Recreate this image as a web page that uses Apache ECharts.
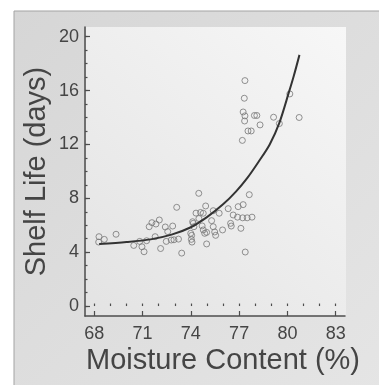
<!DOCTYPE html>
<html>
<head>
<meta charset="utf-8">
<script src="https://cdn.jsdelivr.net/npm/echarts@6/dist/echarts.min.js"></script>
<style>
  html, body { margin: 0; padding: 0; background: #fff; }
  #chart { width: 379px; height: 385px; }
</style>
</head>
<body>
<div id="chart"></div>
<script>
// observed samples: [moisture %, shelf life days]
const samples = [
  [68.29, 5.15], [68.27, 4.75], [68.62, 4.95], [69.35, 5.33],
  [70.45, 4.5], [70.82, 4.8], [70.96, 4.4], [71.09, 4.03], [71.25, 4.85],
  [71.41, 5.89], [71.58, 6.19], [71.83, 6.09], [72.04, 6.39], [71.78, 5.15],
  [72.12, 4.27], [72.41, 5.87], [72.87, 5.94], [72.56, 5.53], [72.47, 4.8],
  [72.78, 4.9], [72.95, 4.92], [73.12, 7.33], [73.23, 4.97], [73.43, 3.93],
  [74.05, 5.25], [74.03, 4.95], [74.07, 4.75], [74.15, 6.14], [74.32, 6.9],
  [74.49, 8.37], [74.11, 6.26], [74.19, 5.89], [73.99, 5.4],
  [74.92, 7.43], [74.77, 6.89], [74.6, 6.95], [75.39, 7.08], [75.76, 6.89],
  [76.32, 7.23], [76.94, 7.38], [77.25, 7.53], [77.63, 8.27], [76.63, 6.76],
  [76.9, 6.6], [77.22, 6.55], [77.5, 6.55], [77.8, 6.6],
  [74.77, 5.65], [74.86, 5.4], [74.98, 5.47], [75.39, 5.89], [75.48, 5.5],
  [75.29, 6.34], [75.97, 5.65], [76.47, 6.14], [76.51, 5.94], [77.11, 5.77],
  [74.98, 4.61], [77.38, 4.01], [75.54, 5.25], [74.5, 6.5], [74.7, 5.95],
  [77.36, 16.74], [77.32, 15.43], [77.25, 14.41], [77.36, 14.12], [77.34, 13.74],
  [77.95, 14.15], [78.1, 14.15], [78.3, 13.45], [77.55, 13.0], [77.75, 13.0],
  [77.2, 12.3], [79.14, 14.02], [79.5, 13.55], [80.15, 15.75], [80.73, 14.0]
];

// fitted curve
const fitCurve = [
  [68.3, 4.6], [70.0, 4.75], [71.5, 4.95], [72.8, 5.3], [74.0, 5.85],
  [75.0, 6.6], [76.0, 7.55], [76.8, 8.5], [77.5, 9.5], [78.2, 10.7],
  [78.9, 12.0], [79.5, 13.6], [80.1, 15.9], [80.4, 17.1], [80.75, 18.65]
];

const xTicks = [68, 71, 74, 77, 80, 83];
const yTicks = [0, 4, 8, 12, 16, 20];
const xMinor = [68, 69, 70, 71, 72, 73, 74, 75, 76, 77, 78, 79, 80, 81, 82, 83];
const yMinor = [0, 1, 2, 3, 4, 5, 6, 7, 8, 9, 10, 11, 12, 13, 14, 15, 16, 17, 18, 19, 20];

const axisColor = '#4d4d4d';
const textColor = '#454545';
const font = 'Liberation Sans, Arial, sans-serif';

const xRange = { min: 67.42, max: 83.58 };
const yRange = { min: -0.74, max: 20.72 };

const chart = echarts.init(document.getElementById('chart'));

const option = {
  backgroundColor: '#ffffff',
  animation: false,
  graphic: [
    {
      type: 'rect', z: -20, silent: true,
      shape: { x: 14, y: 11, width: 400, height: 400 },
      style: {
        fill: new echarts.graphic.LinearGradient(0, 0, 1, 1, [
          { offset: 0, color: '#d6d6d6' },
          { offset: 1, color: '#e6e6e6' }
        ]),
        stroke: '#a3a3a3', lineWidth: 1
      }
    },
    {
      type: 'rect', z: -15, silent: true,
      shape: { x: 86, y: 27, width: 260, height: 289 },
      style: {
        fill: new echarts.graphic.LinearGradient(0, 1, 1, 0, [
          { offset: 0, color: '#e3e3e3' },
          { offset: 1, color: '#f7f7f7' }
        ])
      }
    }
  ],
  grid: { left: 85, top: 27, right: 34, bottom: 69 },
  xAxis: [
    {
      type: 'value', min: xRange.min, max: xRange.max,
      name: 'Moisture Content (%)', nameLocation: 'middle', nameGap: 30,
      nameMoveOverlap: false,
      nameTextStyle: { fontFamily: font, fontSize: 29, color: textColor, padding: [0, 0, 0, 16] },
      axisLine: { show: true, onZero: false, lineStyle: { color: axisColor, width: 1.5 } },
      axisTick: { show: true, inside: true, length: 5, customValues: xTicks, lineStyle: { color: axisColor, width: 1.2 } },
      axisLabel: { customValues: xTicks, margin: 9, fontFamily: font, fontSize: 18, color: textColor },
      splitLine: { show: false }
    },
    {
      type: 'value', min: xRange.min, max: xRange.max, position: 'bottom',
      axisLine: { show: false },
      axisTick: { show: true, inside: true, length: 2.5, customValues: xMinor, lineStyle: { color: axisColor, width: 1.2 } },
      axisLabel: { show: false },
      splitLine: { show: false }
    }
  ],
  yAxis: [
    {
      type: 'value', min: yRange.min, max: yRange.max,
      name: 'Shelf Life (days)', nameLocation: 'middle', nameGap: 34,
      nameMoveOverlap: false,
      nameTextStyle: { fontFamily: font, fontSize: 29, color: textColor },
      axisLine: { show: true, onZero: false, lineStyle: { color: axisColor, width: 1.5 } },
      axisTick: { show: true, inside: true, length: 5, customValues: yTicks, lineStyle: { color: axisColor, width: 1.2 } },
      axisLabel: { customValues: yTicks, margin: 6, fontFamily: font, fontSize: 18, color: textColor },
      splitLine: { show: false }
    },
    {
      type: 'value', min: yRange.min, max: yRange.max, position: 'left',
      axisLine: { show: false },
      axisTick: { show: true, inside: true, length: 2.5, customValues: yMinor, lineStyle: { color: axisColor, width: 1.2 } },
      axisLabel: { show: false },
      splitLine: { show: false }
    }
  ],
  series: [
    {
      type: 'scatter',
      data: samples,
      symbol: 'circle',
      symbolSize: 6,
      itemStyle: { color: 'rgba(0,0,0,0)', borderColor: '#777', borderWidth: 1 }
    },
    {
      type: 'line',
      data: fitCurve,
      smooth: 0.3,
      showSymbol: false,
      lineStyle: { color: '#333', width: 2 },
      z: 3
    }
  ]
};

chart.setOption(option);
</script>
</body>
</html>
